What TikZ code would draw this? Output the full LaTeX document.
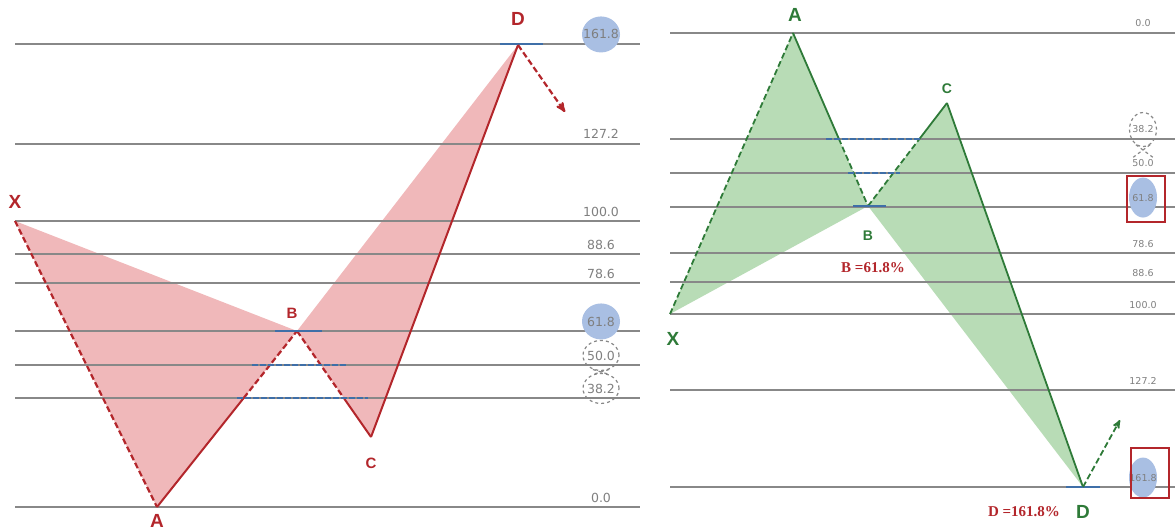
\documentclass[tikz,border=0pt]{standalone}
\usepackage{fontspec}
\usetikzlibrary{arrows,shapes.geometric,calc}
\newfontfamily\lblfont{DejaVu Sans}
\newfontfamily\ptfont{Liberation Sans}
\newfontfamily\pctfont{Liberation Serif}
\definecolor{redln}{HTML}{B3262B}
\definecolor{redfill}{HTML}{F0B8BA}
\definecolor{grnln}{HTML}{2E7A38}
\definecolor{grnfill}{HTML}{B8DCB6}
\definecolor{bluln}{HTML}{3F6FA8}
\definecolor{blufill}{HTML}{A9BFE3}
\definecolor{lvlgray}{HTML}{888888}
\definecolor{txtgray}{HTML}{7F7F7F}
\tikzstyle{lvl}=[draw=lvlgray,line width=1.7pt]
\tikzstyle{lvllbl}=[anchor=base,text=txtgray,font=\lblfont\fontsize{12.5}{12.5}\selectfont,inner sep=1pt]
\tikzstyle{smlbl}=[lvllbl,font=\lblfont\fontsize{9.5}{9.5}\selectfont]
\tikzstyle{bare}=[]
\tikzstyle{hot}=[ellipse,fill=blufill,inner xsep=-5pt,inner ysep=0pt,minimum width=38pt,minimum height=36pt]
\tikzstyle{hotsm}=[ellipse,fill=blufill,inner xsep=-4pt,inner ysep=0pt,minimum width=28pt,minimum height=40pt]
\tikzstyle{maybe}=[ellipse,draw=lvlgray,dashed,line width=1.2pt,inner xsep=-5pt,inner ysep=0pt,minimum width=36pt,minimum height=30pt]
\tikzstyle{maybesm}=[maybe,inner xsep=-4pt,minimum width=27pt,minimum height=34pt]
\tikzstyle{maybeln}=[draw=lvlgray,dashed,line width=1.2pt]
\tikzstyle{rbox}=[draw=redln,line width=2.2pt,minimum width=38pt,minimum height=46pt,inner sep=0pt]
\tikzstyle{redsolid}=[draw=redln,line width=2pt]
\tikzstyle{reddash}=[draw=redln,line width=2.2pt,dash pattern=on 6pt off 3pt]
\tikzstyle{grnsolid}=[draw=grnln,line width=1.8pt]
\tikzstyle{grndash}=[draw=grnln,line width=1.8pt,dash pattern=on 6pt off 3pt]
\tikzstyle{bluseg}=[draw=bluln,line width=2.6pt]
\tikzstyle{bludash}=[draw=bluln,line width=2.2pt,dash pattern=on 6pt off 2pt]
\tikzstyle{redarr}=[->,>=stealth',reddash]
\tikzstyle{grnarr}=[->,>=stealth',grndash]
\tikzstyle{redpt}=[text=redln,font=\ptfont\bfseries\fontsize{19}{19}\selectfont,inner sep=0pt]
\tikzstyle{grnpt}=[text=grnln,font=\ptfont\bfseries\fontsize{19}{19}\selectfont,inner sep=0pt]
\tikzstyle{pct}=[text=redln,font=\pctfont\bfseries\fontsize{15}{15}\selectfont,inner sep=0pt]

\begin{document}
\begin{tikzpicture}[x=1pt,y=-1pt]
  \useasboundingbox (0,0) rectangle (1175,532);
  % left: bearish pattern
  \begin{scope}
    \coordinate (lX) at (15,221);
    \coordinate (lA) at (157,507);
    \coordinate (lB) at (297,331);
    \coordinate (lC) at (371,437);
    \coordinate (lD) at (518,45);
    \fill[redfill] (lX) -- (lA) -- (lB) -- cycle;
    \fill[redfill] (lB) -- (lC) -- (lD) -- cycle;
    \foreach \v/\y/\n/\s in {161.8/44/a1/hot,127.2/144/a2/bare,100.0/221/a3/bare,
        88.6/254/a4/bare,78.6/283/a5/bare,61.8/331/a6/hot,50.0/365/a7/maybe,
        38.2/398/a8/maybe,0.0/507/a9/bare}{
      \draw[lvl] (15,\y) -- (640,\y);
      \node[lvllbl,\s] (\n) at (601,\y-5) {\v};
    }
    \draw[maybeln] (a7.-120) -- (a8.60);
    \draw[maybeln] (a7.-60) -- (a8.120);
    \coordinate (lab) at ($(lA)!0.62!(lB)$);
    \coordinate (lbc) at ($(lB)!0.63!(lC)$);
    \draw[reddash] (lX) -- (lA);
    \draw[redsolid] (lA) -- (lab);
    \draw[reddash] (lab) -- (lB);
    \draw[reddash] (lB) -- (lbc);
    \draw[redsolid] (lbc) -- (lC);
    \draw[redsolid] (lC) -- (lD);
    \draw[bluseg] (275,331) -- (322,331);
    \draw[bludash] (252,365) -- (347,365);
    \draw[bludash] (237,398) -- (368,398);
    \draw[bluseg] (500,44) -- (543,44);
    \coordinate (lDend) at (565,112);
    \draw[redarr] (lD) -- (lDend);
    \node[redpt] (nlX) at (15,202) {X};
    \node[redpt] (nlA) at (157,521) {A};
    \node[redpt,font=\ptfont\bfseries\fontsize{15}{15}\selectfont] (nlB) at (292,313) {B};
    \node[redpt,font=\ptfont\bfseries\fontsize{15}{15}\selectfont] (nlC) at (371,463) {C};
    \node[redpt] (nlD) at (518,19) {D};
  \end{scope}
  % right: bullish pattern
  \begin{scope}
    \coordinate (rX) at (670,314);
    \coordinate (rA) at (793,33);
    \coordinate (rB) at (868,206);
    \coordinate (rC) at (947,103);
    \coordinate (rD) at (1083,487);
    \fill[grnfill] (rX) -- (rA) -- (rB) -- cycle;
    \fill[grnfill] (rB) -- (rC) -- (rD) -- cycle;
    \foreach \v/\y/\n/\s in {0.0/33/b1/bare,38.2/139/b2/maybesm,50.0/173/b3/bare,
        61.8/207/b4/hotsm,78.6/253/b5/bare,88.6/282/b6/bare,100.0/314/b7/bare,
        127.2/390/b8/bare,161.8/487/b9/hotsm}{
      \draw[lvl] (670,\y) -- (1175,\y);
      \node[smlbl,\s] (\n) at (1143,\y-6) {\v};
    }
    \draw[maybeln] (b2.-115) -- (b3.north east);
    \draw[maybeln] (b2.-65) -- (b3.north west);
    \node[rbox] (box4) at (1146,199) {};
    \node[rbox,minimum height=50pt] (box9) at (1150,473) {};
    \coordinate (rab) at ($(rA)!0.61!(rB)$);
    \coordinate (rbc) at ($(rB)!0.65!(rC)$);
    \draw[grndash] (rX) -- (rA);
    \draw[grnsolid] (rA) -- (rab);
    \draw[grndash] (rab) -- (rB);
    \draw[grndash] (rB) -- (rbc);
    \draw[grnsolid] (rbc) -- (rC);
    \draw[grnsolid] (rC) -- (rD);
    \draw[bludash] (826,139) -- (922,139);
    \draw[bludash] (848,173) -- (900,173);
    \draw[bluseg] (853,206) -- (886,206);
    \draw[bluseg] (1066,487) -- (1100,487);
    \coordinate (rDend) at (1120,420);
    \draw[grnarr] (rD) -- (rDend);
    \node[grnpt] (nrA) at (795,15) {A};
    \node[grnpt,font=\ptfont\bfseries\fontsize{14}{14}\selectfont] (nrC) at (947,89) {C};
    \node[grnpt,font=\ptfont\bfseries\fontsize{14}{14}\selectfont] (nrB) at (868,236) {B};
    \node[grnpt] (nrX) at (673,339) {X};
    \node[grnpt] (nrD) at (1083,512) {D};
    \node[pct] (pB) at (873,268) {B =61.8\%};
    \node[pct] (pD) at (1024,512) {D =161.8\%};
  \end{scope}
\end{tikzpicture}
\end{document}
